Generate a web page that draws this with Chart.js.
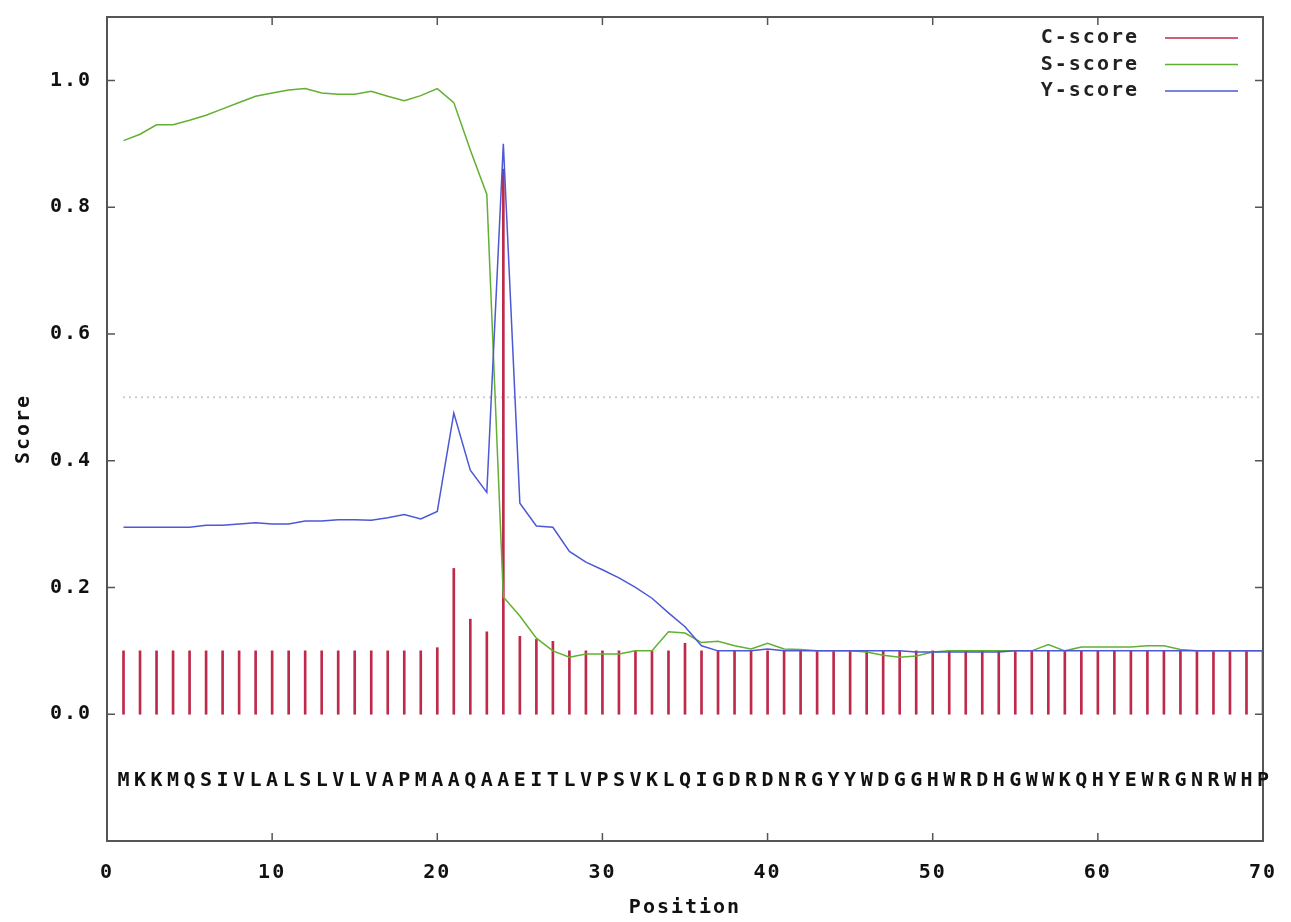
<!DOCTYPE html>
<html>
<head>
<meta charset="utf-8">
<script src="https://cdn.jsdelivr.net/npm/chart.js@4/dist/chart.umd.min.js"></script>
<style>
  body { margin: 0; background: #fff; }
  canvas { display: block; }
</style>
</head>
<body>
<canvas id="chart" width="1291" height="922"></canvas>
<script>
// positions 1..70
var positions = [];
for (var p = 1; p <= 70; p++) positions.push(p);

var sequence = 'MKKMQSIVLALSLVLVAPMAAQAAEITLVPSVKLQIGDRDNRGYYWDGGHWRDHGWWKQHYEWRGNRWHP';

var cScore = [
  0.1, 0.1, 0.1, 0.1, 0.1, 0.1, 0.1, 0.1, 0.1, 0.1,
  0.1, 0.1, 0.1, 0.1, 0.1, 0.1, 0.1, 0.1, 0.1, 0.105,
  0.23, 0.15, 0.13, 0.86, 0.123, 0.118, 0.115, 0.1, 0.1, 0.1,
  0.1, 0.1, 0.1, 0.1, 0.112, 0.1, 0.1, 0.1, 0.1, 0.1,
  0.1, 0.1, 0.1, 0.1, 0.1, 0.1, 0.1, 0.1, 0.1, 0.1,
  0.1, 0.1, 0.1, 0.1, 0.1, 0.1, 0.1, 0.1, 0.1, 0.1,
  0.1, 0.1, 0.1, 0.1, 0.1, 0.1, 0.1, 0.1, 0.1, 0.1
];

var sScore = [
  0.905, 0.915, 0.93, 0.93, 0.937, 0.945, 0.955, 0.965, 0.975, 0.98,
  0.985, 0.987, 0.98, 0.978, 0.978, 0.983, 0.975, 0.968, 0.976, 0.987,
  0.965, 0.89, 0.82, 0.185, 0.155, 0.12, 0.1, 0.09, 0.095, 0.095,
  0.095, 0.1, 0.1, 0.13, 0.128, 0.113, 0.115, 0.108, 0.103, 0.112,
  0.103, 0.102, 0.1, 0.1, 0.1, 0.098, 0.093, 0.09, 0.092, 0.098,
  0.1, 0.1, 0.1, 0.1, 0.1, 0.1, 0.11, 0.1, 0.106, 0.106,
  0.106, 0.106, 0.108, 0.108, 0.102, 0.1, 0.1, 0.1, 0.1, 0.1
];

var yScore = [
  0.295, 0.295, 0.295, 0.295, 0.295, 0.298, 0.298, 0.3, 0.302, 0.3,
  0.3, 0.305, 0.305, 0.307, 0.307, 0.306, 0.31, 0.315, 0.308, 0.32,
  0.475, 0.385, 0.35, 0.9, 0.333, 0.297, 0.295, 0.257, 0.24, 0.228,
  0.215, 0.2, 0.183, 0.16, 0.138, 0.108, 0.1, 0.1, 0.1, 0.103,
  0.1, 0.1, 0.1, 0.1, 0.1, 0.1, 0.1, 0.1, 0.098, 0.098,
  0.098, 0.098, 0.098, 0.098, 0.1, 0.1, 0.1, 0.1, 0.1, 0.1,
  0.1, 0.1, 0.1, 0.1, 0.1, 0.1, 0.1, 0.1, 0.1, 0.1
];

var threshold = 0.5;
var seqLevel = -0.105;
var xTicks = [0, 10, 20, 30, 40, 50, 60, 70];
var yTicks = [0, 0.2, 0.4, 0.6, 0.8, 1.0];

var legendNames = ['C-score', 'S-score', 'Y-score'];
var colC = '#be2a4a', colS = '#62b032', colY = '#4c58d4';
var legendColors = [colC, colS, colY];

function pts(vals) {
  return vals.map(function (v, i) { return { x: positions[i], y: v }; });
}

var font = 'DejaVu Sans Mono';

// frame, inward ticks, legend and sequence letters (gnuplot look)
var decor = {
  id: 'decor',
  beforeDraw: function (chart) {
    chart.ctx.letterSpacing = '2px';
  },
  afterDraw: function (chart) {
    var ctx = chart.ctx, a = chart.chartArea;
    var xs = chart.scales.x, ys = chart.scales.y;
    ctx.save();
    ctx.strokeStyle = '#555';
    ctx.lineWidth = 2;
    ctx.strokeRect(a.left, a.top, a.right - a.left, a.bottom - a.top);
    ctx.lineWidth = 1.5;
    ctx.beginPath();
    xTicks.forEach(function (t) {
      var px = xs.getPixelForValue(t);
      ctx.moveTo(px, a.bottom); ctx.lineTo(px, a.bottom - 8);
      ctx.moveTo(px, a.top); ctx.lineTo(px, a.top + 8);
    });
    yTicks.forEach(function (t) {
      var py = ys.getPixelForValue(t);
      ctx.moveTo(a.left, py); ctx.lineTo(a.left + 8, py);
      ctx.moveTo(a.right, py); ctx.lineTo(a.right - 8, py);
    });
    ctx.stroke();

    // legend
    ctx.font = 'bold 20px "' + font + '"';
    ctx.fillStyle = '#222';
    ctx.textAlign = 'right';
    ctx.textBaseline = 'middle';
    legendNames.forEach(function (name, i) {
      var ly = a.top + 21 + i * 26.5;
      ctx.fillText(name, a.right - 124, ly);
      ctx.strokeStyle = legendColors[i];
      ctx.lineWidth = 1.5;
      ctx.beginPath();
      ctx.moveTo(a.right - 98, ly);
      ctx.lineTo(a.right - 25, ly);
      ctx.stroke();
    });

    // amino acid sequence, one letter per position
    ctx.letterSpacing = '0px';
    ctx.textAlign = 'center';
    ctx.fillStyle = '#111';
    ctx.font = 'bold 20px "' + font + '"';
    var sy = ys.getPixelForValue(seqLevel);
    for (var i = 0; i < sequence.length; i++) {
      ctx.fillText(sequence[i], xs.getPixelForValue(positions[i]), sy);
    }
    ctx.restore();
  }
};

new Chart(document.getElementById('chart'), {
  type: 'line',
  data: {
    datasets: [
      {
        label: 'Y-score', data: pts(yScore), borderColor: colY, borderWidth: 1.5,
        pointRadius: 0, tension: 0, fill: false, order: 1
      },
      {
        label: 'S-score', data: pts(sScore), borderColor: colS, borderWidth: 1.5,
        pointRadius: 0, tension: 0, fill: false, order: 2
      },
      {
        type: 'bar', label: 'C-score', data: pts(cScore), backgroundColor: colC,
        barThickness: 2, order: 3
      },
      {
        label: 'threshold', data: [{ x: 1, y: threshold }, { x: 70, y: threshold }],
        borderColor: '#999', borderWidth: 2, borderDash: [1, 5],
        pointRadius: 0, fill: false, order: 4
      }
    ]
  },
  options: {
    responsive: false,
    animation: false,
    layout: { padding: { top: 17, right: 28, left: 0, bottom: 0 } },
    plugins: { legend: { display: false }, tooltip: { enabled: false } },
    scales: {
      x: {
        type: 'linear', min: 0, max: 70, offset: false,
        grid: { display: false }, border: { display: false },
        afterFit: function (s) { s.height = 81; },
        afterBuildTicks: function (s) { s.ticks = xTicks.map(function (v) { return { value: v }; }); },
        ticks: {
          padding: 12, color: '#111', maxRotation: 0,
          font: { family: font, size: 20, weight: 'bold' },
          callback: function (v) { return String(v); }
        },
        title: {
          display: true, text: 'Position', color: '#111',
          font: { family: font, size: 20, weight: 'bold' },
          padding: { top: 0, bottom: 2 }
        }
      },
      y: {
        type: 'linear', min: -0.2, max: 1.1,
        grid: { display: false }, border: { display: false },
        afterFit: function (s) { s.width = 107; s.paddingTop = 0; s.paddingBottom = 0; },
        afterBuildTicks: function (s) { s.ticks = yTicks.map(function (v) { return { value: v }; }); },
        ticks: {
          padding: 7, color: '#111',
          font: { family: font, size: 20, weight: 'bold' },
          callback: function (v) { return v.toFixed(1); }
        },
        title: {
          display: true, text: 'Score', color: '#111',
          font: { family: font, size: 20, weight: 'bold' },
          padding: { top: 12, bottom: 0 }
        }
      }
    }
  },
  plugins: [decor]
});
</script>
</body>
</html>
